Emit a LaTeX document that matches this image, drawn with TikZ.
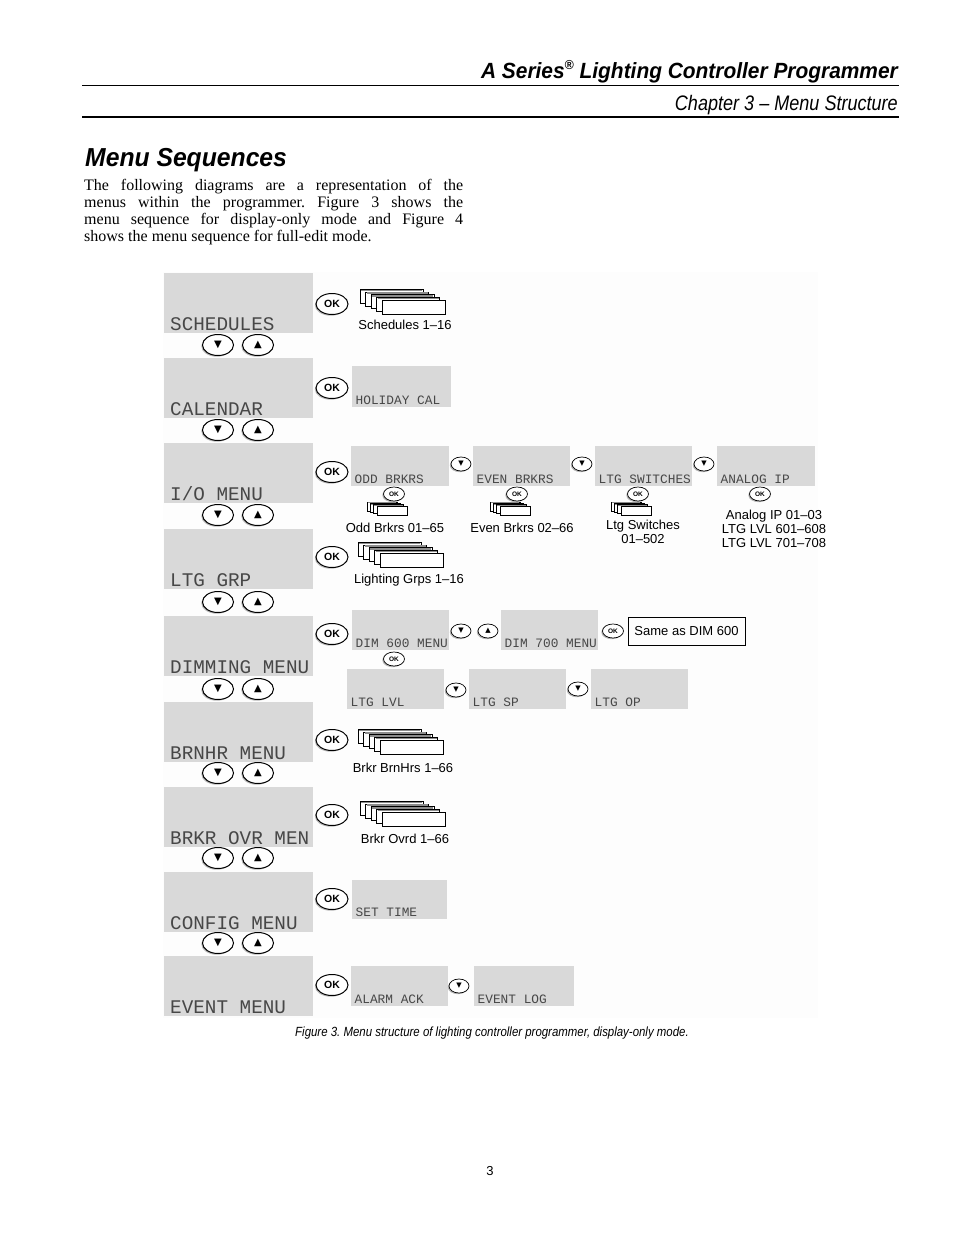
\documentclass[tikz,border=0pt]{standalone}
\usepackage{fontspec}
\setmainfont{Liberation Serif}
\newfontfamily\hsans{Liberation Sans}
\newfontfamily\hcond[FakeStretch=0.86]{Liberation Sans}
\newfontfamily\hhead[FakeStretch=0.95]{Liberation Sans}
\newfontfamily\lcdfont{Liberation Mono}
\newfontfamily\symfont{DejaVu Sans}
\usetikzlibrary{shapes.geometric,shadows}
\definecolor{lcdgray}{HTML}{D9D9D9}
\definecolor{figbg}{HTML}{FDFDFD}
\frenchspacing

\newcommand\bigdisp[3]{%
  \node[lcdbig, anchor=north west] (#1) at (164,#2) {};
  \node[lcdbigtxt] (#1t) at ([xshift=6pt,yshift=2.5pt]#1.south west) {#3};}
\newcommand\subdisp[6]{%
  \node[lcdsmall, anchor=north west, minimum width=#4pt, minimum height=#5pt] (#1) at (#2,#3) {};
  \node[lcdsmalltxt] (#1t) at ([xshift=3.5pt,yshift=3pt]#1.south west) {#6};}
\newcommand\bigstack[2]{%
  \foreach \i in {0,...,4}{%
    \pgfmathsetmacro\cx{#1+5.5*\i}\pgfmathsetmacro\cy{#2+2.8*\i}%
    \filldraw[card] (\cx,\cy) rectangle ++(63,14);
    \ifnum\i<4 \draw[black!45, line width=1.3pt] (\cx+1,\cy+1.3) -- ++(61,0);\fi
  }}
\newcommand\smallstack[2]{%
  \foreach \i in {0,...,3}{%
    \pgfmathsetmacro\cx{#1+3.3*\i}\pgfmathsetmacro\cy{#2+1.3*\i}%
    \filldraw[card] (\cx,\cy) rectangle ++(30,9);
    \ifnum\i<3 \draw[black!45, line width=0.9pt] (\cx+0.7,\cy+0.9) -- ++(28.6,0);\fi
  }}

\begin{document}
\begin{tikzpicture}[x=1pt,y=-1pt,
  lcdbig/.style={rectangle, fill=lcdgray, draw=none, minimum width=149pt, minimum height=60pt, inner sep=0pt},
  lcdsmall/.style={rectangle, fill=lcdgray, draw=none, inner sep=0pt},
  lcdbigtxt/.style={anchor=base west, inner sep=0pt, text=black!72, font=\lcdfont\fontsize{19.3}{20}\selectfont},
  lcdsmalltxt/.style={anchor=base west, inner sep=0pt, text=black!72, font=\lcdfont\fontsize{12.8}{14}\selectfont},
  btn/.style={ellipse, draw=black, fill=white, inner sep=0pt, drop shadow={shadow xshift=-1.2pt,shadow yshift=-1.2pt,fill=black!28,opacity=1}},
  okbig/.style={btn, line width=1pt, minimum width=32pt, minimum height=21pt, font=\hsans\bfseries\fontsize{10.5}{10.5}\selectfont},
  arrbig/.style={btn, line width=1pt, minimum width=31pt, minimum height=21pt, font=\symfont\fontsize{10}{10}\selectfont},
  oksmall/.style={btn, line width=0.7pt, minimum width=21pt, minimum height=14pt, font=\hsans\bfseries\fontsize{6.5}{7}\selectfont},
  arrsmall/.style={btn, line width=0.7pt, minimum width=20pt, minimum height=14pt, font=\symfont\fontsize{7}{7}\selectfont},
  lbl/.style={inner sep=0pt, font=\hsans\fontsize{13}{14}\selectfont, align=center},
  card/.style={fill=white, draw=black, line width=0.6pt},
  para/.style={anchor=base west, inner sep=0pt, font=\fontsize{16}{17}\selectfont}
]
\useasboundingbox[fill=white] (0,0) rectangle (954,1235);

% header
\node[anchor=base east, inner sep=0pt, font=\hhead\bfseries\itshape\fontsize{22}{26}\selectfont] (title) at (898,78)
  {A Series\raisebox{0.4em}{\fontsize{13}{13}\selectfont ®} Lighting Controller Programmer};
\coordinate (r1a) at (82,85); \coordinate (r1b) at (899,85);
\draw[line width=1pt] (r1a) -- (r1b);
\node[anchor=base east, inner sep=0pt, font=\hcond\itshape\fontsize{21}{24}\selectfont] (chap) at (898,110) {Chapter 3 – Menu Structure};
\coordinate (r2a) at (82,117); \coordinate (r2b) at (899,117);
\draw[line width=2.2pt] (r2a) -- (r2b);

\node[anchor=base west, inner sep=0pt, font=\hhead\bfseries\itshape\fontsize{26}{30}\selectfont] (msh) at (85,166) {Menu Sequences};
\node[para] (p1) at (84,190) {\makebox[379pt][s]{The following diagrams are a representation of the}};
\node[para] (p2) at (84,207) {\makebox[379pt][s]{menus within the programmer. Figure 3 shows the}};
\node[para] (p3) at (84,224) {\makebox[379pt][s]{menu sequence for display-only mode and Figure 4}};
\node[para] (p4) at (84,241) {shows the menu sequence for full-edit mode.};

% figure background
\fill[figbg] (163,272) rectangle (818,1018);

% main displays
\bigdisp{m1}{273}{SCHEDULES}
\bigdisp{m2}{358}{CALENDAR}
\bigdisp{m3}{443}{I/O MENU}
\bigdisp{m4}{529}{LTG GRP}
\bigdisp{m5}{616}{DIMMING MENU}
\bigdisp{m6}{702}{BRNHR MENU}
\bigdisp{m7}{787}{BRKR OVR MEN}
\bigdisp{m8}{872}{CONFIG MENU}
\bigdisp{m9}{956}{EVENT MENU}

\foreach \n/\yy in {1/345,2/430,3/515,4/602,5/689,6/773,7/858,8/943}{
  \node[arrbig] (dn\n) at (218,\yy) {▼};
  \node[arrbig] (up\n) at (258,\yy) {▲};
}
\foreach \n/\yy in {1/304,2/388,3/472,4/557,5/634,6/740,7/815,8/899,9/985}{
  \node[okbig] (ok\n) at (332,\yy) {OK};
}

% sub displays
\subdisp{hol}{352}{366}{99}{41}{HOLIDAY CAL}
\subdisp{odd}{351}{446}{98}{40}{ODD BRKRS}
\subdisp{even}{473}{446}{97}{40}{EVEN BRKRS}
\subdisp{ltgsw}{595}{446}{97}{40}{LTG SWITCHES}
\subdisp{anip}{717}{446}{98}{40}{ANALOG IP}
\subdisp{dimsix}{352}{610}{97}{40}{DIM 600 MENU}
\subdisp{dimsev}{501}{610}{97}{40}{DIM 700 MENU}
\subdisp{lvl}{347}{669}{97}{40}{LTG LVL}
\subdisp{sp}{469}{669}{97}{40}{LTG SP}
\subdisp{op}{591}{669}{97}{40}{LTG OP}
\subdisp{st}{352}{880}{95}{39}{SET TIME}
\subdisp{alarm}{351}{966}{97}{40}{ALARM ACK}
\subdisp{evlog}{474}{966}{100}{40}{EVENT LOG}

% small buttons
\node[arrsmall] (ia1) at (461,464) {▼};
\node[arrsmall] (ia2) at (582,464) {▼};
\node[arrsmall] (ia3) at (704,464) {▼};
\node[oksmall] (io1) at (394,494) {OK};
\node[oksmall] (io2) at (517,494) {OK};
\node[oksmall] (io3) at (638,494) {OK};
\node[oksmall] (io4) at (760,494) {OK};
\node[arrsmall] (da) at (461,631) {▼};
\node[arrsmall] (du) at (488,631) {▲};
\node[oksmall] (dokb) at (613,631) {OK};
\node[oksmall] (doka) at (394,659) {OK};
\node[arrsmall] (la1) at (456,690) {▼};
\node[arrsmall] (la2) at (578,689) {▼};
\node[arrsmall] (ea) at (459,986) {▼};

\node[draw, line width=0.8pt, minimum width=117pt, minimum height=28pt, inner sep=0pt,
  font=\hsans\fontsize{13}{14}\selectfont] (same) at (686.5,631) {Same as DIM 600};

% card stacks
\bigstack{360}{289}
\bigstack{358}{542}
\bigstack{358}{729}
\bigstack{360}{801}
\smallstack{367}{502}
\smallstack{490}{502}
\smallstack{611}{502}

% labels
\node[lbl] (l1) at (405,325) {Schedules 1–16};
\node[lbl] (l4) at (409,580) {Lighting Grps 1–16};
\node[lbl] (l6) at (403,768) {Brkr BrnHrs 1–66};
\node[lbl] (l7) at (405,839) {Brkr Ovrd 1–66};
\node[lbl] (lodd) at (395,528) {Odd Brkrs 01–65};
\node[lbl] (leven) at (522,528) {Even Brkrs 02–66};
\node[lbl] (lsw) at (643,532) {Ltg Switches\\01–502};
\node[lbl] (lan) at (774,529) {Analog IP 01–03\\LTG LVL 601–608\\LTG LVL 701–708};

\node[anchor=base, inner sep=0pt, font=\hcond\itshape\fontsize{13.3}{15}\selectfont] (cap) at (492,1036)
  {Figure 3. Menu structure of lighting controller programmer, display-only mode.};
\node[anchor=base, inner sep=0pt, font=\hsans\fontsize{13}{14}\selectfont] (pg) at (490,1175) {3};
\end{tikzpicture}
\end{document}
